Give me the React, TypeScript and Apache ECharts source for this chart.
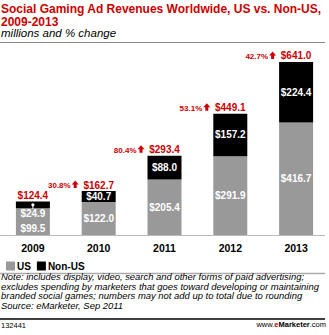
import React, { useEffect, useRef } from "react";
import * as echarts from "echarts";

const years = ["2009", "2010", "2011", "2012", "2013"];
const usValues = [99.5, 122.0, 205.4, 291.9, 416.7];
const nonUsValues = [24.9, 40.7, 88.0, 157.2, 224.4];
const totals = [124.4, 162.7, 293.4, 449.1, 641.0];
const pctChange = [null, 30.8, 80.4, 53.1, 42.7];

const RED = "#cc0000";
const GRAY = "#999999";
const FONT = "'Liberation Sans', Arial, Helvetica, sans-serif";

const noteLines = [
  "Note: includes display, video, search and other forms of paid advertising;",
  "excludes spending by marketers that goes toward developing or maintaining",
  "branded social games; numbers may not add up to total due to rounding",
  "Source: eMarketer, Sep 2011",
];

export default function App() {
  const ref = useRef<HTMLDivElement>(null);
  useEffect(() => {
    document.body.style.margin = "0";
    const chart = echarts.init(ref.current!, null, { renderer: "svg" });
    const fmt = (v: number) => "$" + v.toFixed(1);

    const totalData = years.map((_, i) => [i, totals[i], pctChange[i] == null ? -1 : pctChange[i], usValues[i], nonUsValues[i]]);

    const option: any = {
      animation: false,
      textStyle: { fontFamily: FONT },
      grid: { left: -13, right: -8, top: 46, bottom: 100, containLabel: false },
      xAxis: {
        type: "category",
        data: years,
        axisLine: { show: false },
        axisTick: { show: false },
        axisLabel: { color: "#000", fontWeight: "bold", fontSize: 10.5, margin: 7, fontFamily: FONT },
      },
      yAxis: {
        type: "value",
        min: 0,
        max: 700,
        show: false,
        splitLine: { show: false },
      },
      legend: {
        left: 1,
        top: 256,
        icon: "rect",
        itemWidth: 9,
        itemHeight: 9,
        itemGap: 6,
        textStyle: { color: "#000", fontWeight: "bold", fontSize: 10, fontFamily: FONT, padding: [0, 0, 0, -3] },
        data: ["US", "Non-US"],
      },
      series: [
        {
          name: "US",
          type: "bar",
          stack: "total",
          barWidth: 34,
          itemStyle: { color: GRAY },
          data: usValues.map((v, i) =>
            i === 0 ? { value: v, label: { offset: [0, 6.5] } } : { value: v }
          ),
          label: {
            show: true,
            position: "inside",
            color: "#fff",
            fontWeight: "bold",
            fontSize: 10,
            fontFamily: FONT,
            formatter: (p: any) => fmt(p.value),
          },
        },
        {
          name: "Non-US",
          type: "bar",
          stack: "total",
          barWidth: 34,
          itemStyle: { color: "#000" },
          data: nonUsValues.map((v, i) =>
            i === 0 ? { value: v, label: { position: "bottom", distance: 0 } } : { value: v }
          ),
          label: {
            show: true,
            position: "inside",
            color: "#fff",
            fontWeight: "bold",
            fontSize: 10,
            fontFamily: FONT,
            formatter: (p: any) => fmt(p.value),
          },
        },
        {
          name: "totals",
          type: "custom",
          data: totalData,
          z: 10,
          renderItem: (params: any, api: any) => {
            const i = api.value(0);
            const total = api.value(1);
            const pct = api.value(2);
            const p = api.coord([i, total]);
            const cx = p[0];
            const yb = p[1] - 1;
            const children: any[] = [
              {
                type: "text",
                style: {
                  x: cx,
                  y: yb,
                  text: fmt(total),
                  fill: RED,
                  font: `bold 10px ${FONT}`,
                  textAlign: "center",
                  textVerticalAlign: "bottom",
                },
              },
            ];
            if (pct >= 0) {
              const ax = cx - 23.5;
              const ab = yb - 2;
              children.push({
                type: "text",
                style: {
                  x: cx - 28,
                  y: yb - 0.5,
                  text: pct.toFixed(1) + "%",
                  fill: RED,
                  font: `bold 8px ${FONT}`,
                  textAlign: "right",
                  textVerticalAlign: "bottom",
                },
              });
              children.push({
                type: "polygon",
                shape: {
                  points: [
                    [ax - 1.5, ab],
                    [ax + 1.5, ab],
                    [ax + 1.5, ab - 3.5],
                    [ax + 3.5, ab - 3.5],
                    [ax, ab - 7.5],
                    [ax - 3.5, ab - 3.5],
                    [ax - 1.5, ab - 3.5],
                  ],
                },
                style: { fill: RED },
              });
            } else {
              const us = api.value(3);
              const non = api.value(4);
              const d = api.coord([i, us + non / 2]);
              const b = api.coord([i, us]);
              children.push({
                type: "line",
                shape: { x1: d[0], y1: d[1], x2: b[0], y2: b[1] + 1 },
                style: { stroke: "#fff", lineWidth: 1 },
              });
              children.push({
                type: "circle",
                shape: { cx: d[0], cy: d[1], r: 1.6 },
                style: { fill: "#fff" },
              });
            }
            return { type: "group", children };
          },
        },
      ],
      graphic: [
        {
          type: "text",
          left: 1,
          top: 2,
          style: {
            text: "Social Gaming Ad Revenues Worldwide, US vs. Non-US,\n2009-2013",
            fill: RED,
            font: `bold 12px ${FONT}`,
            lineHeight: 13,
          },
        },
        {
          type: "text",
          left: 1,
          top: 27,
          style: {
            text: "millions and % change",
            fill: "#000",
            font: `italic 11.5px ${FONT}`,
          },
        },
        {
          type: "line",
          shape: { x1: 0, y1: 42.5, x2: 325, y2: 42.5 },
          style: { stroke: "#888", lineWidth: 1 },
        },
        {
          type: "line",
          shape: { x1: 0, y1: 235.5, x2: 325, y2: 235.5 },
          style: { stroke: "#bbb", lineWidth: 1 },
        },
        {
          type: "line",
          shape: { x1: 0, y1: 273.5, x2: 325, y2: 273.5 },
          style: { stroke: "#aaa", lineWidth: 1.5 },
        },
        {
          type: "text",
          left: 1,
          top: 272,
          style: {
            text: noteLines.join("\n"),
            fill: "#000",
            font: `italic 9.45px ${FONT}`,
            lineHeight: 9.5,
          },
        },
        {
          type: "line",
          shape: { x1: 0, y1: 319, x2: 325, y2: 319 },
          style: { stroke: "#000", lineWidth: 1.5 },
        },
        {
          type: "text",
          left: 1,
          top: 321,
          style: { text: "132441", fill: "#000", font: `7.5px ${FONT}` },
        },
        {
          type: "text",
          right: 3,
          top: 320.5,
          style: {
            text: "www.{e|e}{b|Marketer}.com",
            fill: "#000",
            font: `7.5px ${FONT}`,
            rich: {
              e: { fill: RED, font: `bold 7.5px ${FONT}` },
              b: { fill: "#000", font: `bold 7.5px ${FONT}` },
            },
          },
        },
      ],
    };
    chart.setOption(option);
    return () => chart.dispose();
  }, []);
  return <div ref={ref} style={{ width: 329, height: 335 }} />;
}
